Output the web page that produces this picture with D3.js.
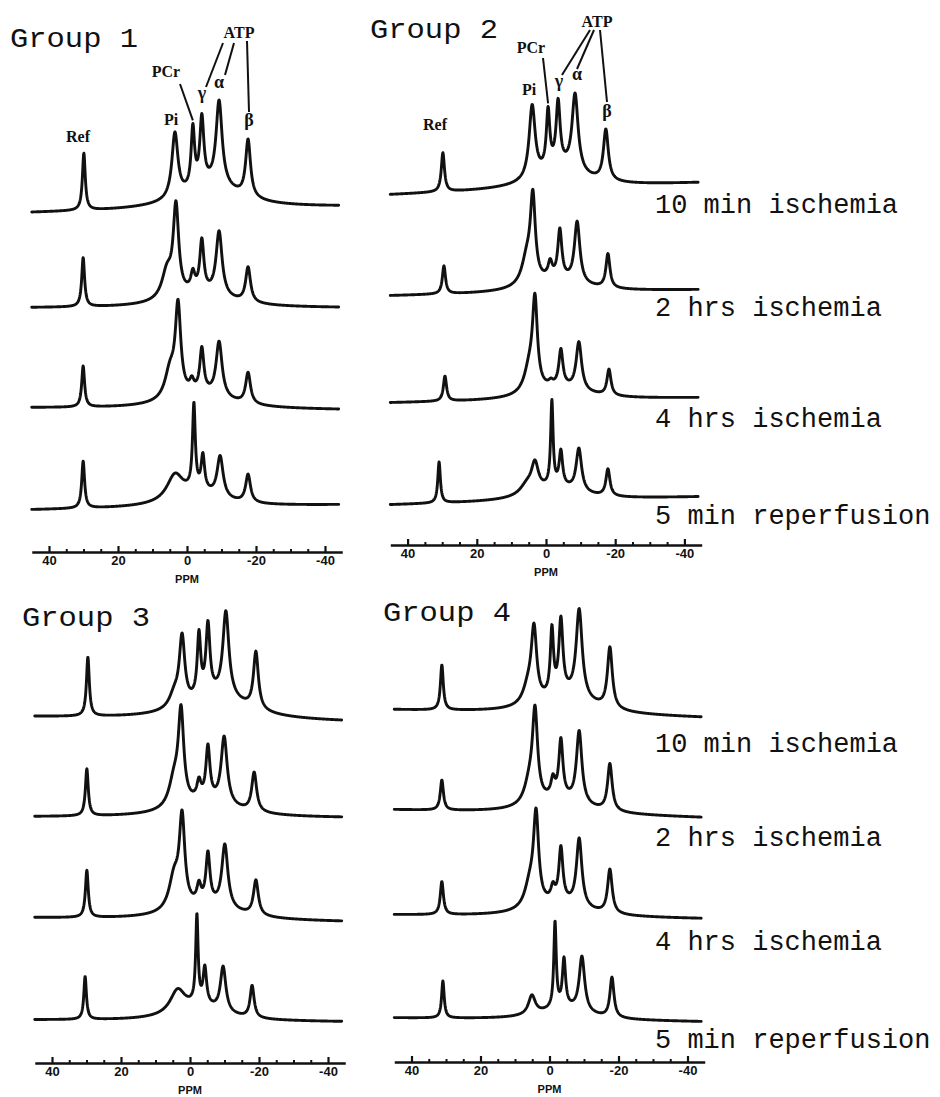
<!DOCTYPE html>
<html>
<head>
<meta charset="utf-8">
<script src="https://cdn.jsdelivr.net/npm/d3@7"></script>
<style>
  body { margin: 0; background: #fff; }
  svg { display: block; }
</style>
</head>
<body>
<svg id="chart" width="940" height="1097"></svg>
<script>
// ---- Data -------------------------------------------------------------
const groupNames = ["Group 1", "Group 2", "Group 3", "Group 4"];
const conditions = ["10 min ischemia", "2 hrs ischemia", "4 hrs ischemia", "5 min reperfusion"];
const majorTicks = [40, 20, 0, -20, -40];
const minorTicks = [35, 30, 25, 15, 10, 5, -5, -10, -15, -25, -30, -35];
const axisTitle = "PPM";
const peakLabels = ["Ref", "Pi", "PCr", "γ", "α", "β", "ATP"];

// Each spectrum is a list of resonances: [chemical shift (ppm), height, half-width (ppm)].
// The last resonance of every spectrum is the broad underlying component.
const group1Spectra = [
  [[29.9, 57, 0.5], [3.5, 65, 1.05], [-1.7, 59, 0.6], [-4.3, 66, 0.7], [-9.3, 84, 1.05], [-17.7, 57, 0.85], [-7, 24, 10]],
  [[30.1, 49, 0.5], [3.2, 88, 0.95], [5.8, 27, 1.8], [-1.7, 17, 0.7], [-4.3, 50, 0.7], [-9.3, 64, 1.05], [-17.7, 35, 0.85], [-4, 14, 10]],
  [[30.1, 41, 0.5], [2.6, 88, 0.95], [4.9, 28, 1.8], [-1.4, 10, 0.7], [-4.3, 43, 0.7], [-9.3, 55, 1.05], [-17.7, 31, 0.85], [-4, 14, 10]],
  [[30.1, 47, 0.5], [3.5, 25, 2.8], [-2.0, 84, 0.48], [-4.6, 34, 0.6], [-9.6, 41, 1.05], [-17.7, 28, 0.85], [-3, 14, 8]]
];
const group2Spectra = [
  [[29.8, 39, 0.55], [4.0, 73, 1.05], [-0.6, 57, 0.6], [-3.5, 63, 0.7], [-8.4, 77, 1.05], [-17.3, 51, 0.85], [-4, 20, 8]],
  [[29.5, 28, 0.55], [3.8, 81, 0.85], [5.5, 27, 1.8], [-1.2, 15, 0.7], [-4.0, 48, 0.7], [-9.0, 61, 0.95], [-17.9, 34, 0.7], [-3, 12, 9]],
  [[29.2, 25, 0.55], [3.2, 86, 0.85], [4.8, 24, 1.8], [-1.4, 4, 0.7], [-4.3, 36, 0.7], [-9.5, 48, 0.95], [-18.2, 26, 0.7], [-4, 12, 9]],
  [[30.9, 41, 0.45], [3.2, 27, 1.2], [5.5, 10, 2.4], [-1.7, 84, 0.42], [-4.3, 34, 0.6], [-9.5, 43, 0.95], [-17.9, 27, 0.7], [-3, 13, 8]]
];
const group3Spectra = [
  [[29.6, 59, 0.5], [2.3, 67, 0.95], [4.5, 14, 1.8], [-2.6, 62, 0.6], [-5.2, 69, 0.7], [-10.4, 84, 1.05], [-19.1, 57, 0.85], [-8, 24, 10]],
  [[29.9, 47, 0.5], [2.6, 90, 0.95], [4.6, 27, 1.8], [-2.6, 17, 0.7], [-5.2, 52, 0.7], [-9.9, 67, 1.05], [-18.6, 39, 0.85], [-5, 15, 10]],
  [[29.9, 47, 0.5], [2.3, 87, 0.95], [4.6, 33, 1.8], [-2.6, 17, 0.7], [-5.2, 49, 0.7], [-10.1, 63, 1.05], [-19.1, 35, 0.85], [-5, 14, 10]],
  [[30.4, 43, 0.45], [3.6, 23, 2.6], [-2.0, 87, 0.42], [-4.3, 36, 0.6], [-9.6, 45, 0.95], [-18.0, 32, 0.7], [-3, 14, 8]]
];
const group4Spectra = [
  [[31.2, 45, 0.5], [4.5, 71, 0.95], [6.2, 17, 1.8], [-0.7, 65, 0.55], [-3.3, 73, 0.7], [-8.6, 88, 1.05], [-17.5, 61, 0.85], [-5, 18, 9]],
  [[31.2, 30, 0.55], [4.2, 87, 0.9], [5.8, 21, 1.8], [-1.0, 17, 0.7], [-3.3, 57, 0.7], [-8.6, 72, 0.95], [-17.5, 47, 0.8], [-3, 14, 9]],
  [[31.2, 33, 0.55], [3.9, 88, 0.9], [5.7, 23, 1.8], [-1.0, 13, 0.7], [-3.3, 53, 0.7], [-8.6, 68, 0.95], [-17.5, 44, 0.8], [-3, 13, 9]],
  [[30.9, 37, 0.45], [5.1, 19, 1.2], [-1.6, 85, 0.42], [-4.2, 47, 0.55], [-9.4, 55, 0.95], [-18.1, 40, 0.7], [-4, 12, 8]]
];
// Baseline drift of each spectrum: intensity at the 45 ppm end and at the -45 ppm end.
const group1Drift = [[-4, 2], [1, 1], [1, -1], [-1, 4]];
const group2Drift = [[-6, 6], [-3, 3], [-6, -1], [-4, 4]];
const group3Drift = [[2, -3], [2.5, 1.5], [2, -2], [0.5, -1.5]];
const group4Drift = [[4, -4], [6, -2], [3, -1], [2, -2]];

// ---- Layout -----------------------------------------------------------
const panels = [
  { name: groupNames[0], spectra: group1Spectra, drift: group1Drift, zeroX: 187,   ppx: 3.45, axisY: 552,  base0: 209, gap: 100,
    title: { x: 10, y: 47 }, showConditions: false },
  { name: groupNames[1], spectra: group2Spectra, drift: group2Drift, zeroX: 546,   ppx: 3.46, axisY: 545,  base0: 189, gap: 104,
    title: { x: 370, y: 38 }, showConditions: true, condX: 655, condY: [213, 316, 427, 524] },
  { name: groupNames[2], spectra: group3Spectra, drift: group3Drift, zeroX: 190,   ppx: 3.45, axisY: 1063, base0: 719, gap: 100.5,
    title: { x: 22, y: 626 }, showConditions: false },
  { name: groupNames[3], spectra: group4Spectra, drift: group4Drift, zeroX: 549.5, ppx: 3.45, axisY: 1062, base0: 714, gap: 102,
    title: { x: 383, y: 621 }, showConditions: true, condX: 655, condY: [752, 846, 950, 1048] }
];

const svg = d3.select("#chart");
const ppmExtent = [45, -44];
const samples = d3.range(ppmExtent[0], ppmExtent[1] - 0.001, -0.08);

function intensity(peaks, drift, ppm) {
  let v = drift[0] + (drift[1] - drift[0]) * (45 - ppm) / 90;
  for (const [c, h, w] of peaks) {
    const d = ppm - c;
    v += h * w * w / (d * d + w * w);
  }
  return v;
}

const ink = "#111";

panels.forEach((p, gi) => {
  const g = svg.append("g");
  const x = d3.scaleLinear()
    .domain([45, -45])
    .range([p.zeroX - 45 * p.ppx, p.zeroX + 45 * p.ppx]);
  const y = d3.scaleLinear().domain([0, 100]).range([0, -100]);

  // stacked spectra
  p.spectra.forEach((peaks, ti) => {
    const baseY = p.base0 + ti * p.gap;
    const line = d3.line()
      .x(d => x(d))
      .y(d => baseY + y(intensity(peaks, p.drift[ti], d)));
    g.append("path")
      .datum(samples)
      .attr("d", line)
      .attr("fill", "none")
      .attr("stroke", ink)
      .attr("stroke-width", 2.9)
      .attr("stroke-linejoin", "round")
      .attr("stroke-linecap", "round");
  });

  // chemical-shift axis: major ticks with labels, minor ticks every 5 ppm
  const axisMajor = d3.axisBottom(x).tickValues(majorTicks)
    .tickSizeInner(-6).tickSizeOuter(0).tickPadding(4)
    .tickFormat(d => d < 0 ? "-" + Math.abs(d) : String(d));
  const ag = g.append("g").attr("transform", `translate(0,${p.axisY})`).call(axisMajor);
  ag.select(".domain").attr("stroke", ink).attr("stroke-width", 2.4);
  ag.selectAll(".tick line").attr("stroke", ink).attr("stroke-width", 2.2);
  ag.selectAll(".tick text")
    .attr("fill", ink)
    .attr("font-family", "Liberation Sans, Arial, sans-serif")
    .attr("font-weight", "bold")
    .attr("font-size", 13);
  const axisMinor = d3.axisBottom(x).tickValues(minorTicks)
    .tickSizeInner(-3).tickSizeOuter(0).tickFormat("");
  const mg = g.append("g").attr("transform", `translate(0,${p.axisY})`).call(axisMinor);
  mg.select(".domain").remove();
  mg.selectAll(".tick line").attr("stroke", ink).attr("stroke-width", 2);

  g.append("text")
    .attr("x", x(0)).attr("y", p.axisY + 31)
    .attr("text-anchor", "middle")
    .attr("font-family", "Liberation Sans, Arial, sans-serif")
    .attr("font-weight", "bold")
    .attr("font-size", 11)
    .attr("fill", ink)
    .text(axisTitle);

  // group title
  g.append("text")
    .attr("x", p.title.x).attr("y", p.title.y)
    .attr("font-family", "Liberation Mono, Courier New, monospace")
    .attr("font-size", 28)
    .attr("textLength", 128)
    .attr("lengthAdjust", "spacingAndGlyphs")
    .attr("fill", ink)
    .text(p.name);

  // experimental condition of each row
  if (p.showConditions) {
    conditions.forEach((c, i) => {
      g.append("text")
        .attr("x", p.condX).attr("y", p.condY[i])
        .attr("font-family", "Liberation Mono, Courier New, monospace")
        .attr("font-size", 27)
        .attr("fill", ink)
        .text(c);
    });
  }
  p.x = x;
});

// ---- Peak assignments on the first spectrum of groups 1 and 2 ---------
const assignFont = "Liberation Serif, Times New Roman, serif";
const assignments = [
  { panel: 0,
    labels: [[78, 142], [171, 125], [166, 77], [202, 99], [219, 88], [249, 126], [239, 38]],
    atpLines: [[[223, 43], [206, 87]], [[234, 43], [225, 75]], [[247, 41], [249, 112]]],
    pcr: { from: [180, 84], peak: 2 } },
  { panel: 1,
    labels: [[435, 130], [529, 95], [531, 53], [559, 87], [577, 80], [607, 117], [597, 27]],
    atpLines: [[[590, 30], [562, 75]], [[594, 30], [577, 69]], [[600, 30], [607, 102]]],
    pcr: { from: [543, 58], peak: 2 } }
];

assignments.forEach(a => {
  const p = panels[a.panel];
  const g = svg.append("g");
  peakLabels.forEach((t, i) => {
    g.append("text")
      .attr("x", a.labels[i][0]).attr("y", a.labels[i][1])
      .attr("text-anchor", "middle")
      .attr("font-family", assignFont)
      .attr("font-weight", "bold")
      .attr("font-size", t.length > 1 ? 16 : 18)
      .attr("fill", ink)
      .text(t);
  });
  a.atpLines.forEach(seg => {
    g.append("line")
      .attr("x1", seg[0][0]).attr("y1", seg[0][1])
      .attr("x2", seg[1][0]).attr("y2", seg[1][1])
      .attr("stroke", ink).attr("stroke-width", 2);
  });
  const pk = p.spectra[0][a.pcr.peak];
  const px = p.x(pk[0]);
  const py = p.base0 - intensity(p.spectra[0], p.drift[0], pk[0]) - 3;
  g.append("line")
    .attr("x1", a.pcr.from[0]).attr("y1", a.pcr.from[1])
    .attr("x2", px).attr("y2", py)
    .attr("stroke", ink).attr("stroke-width", 2);
});
</script>
</body>
</html>
